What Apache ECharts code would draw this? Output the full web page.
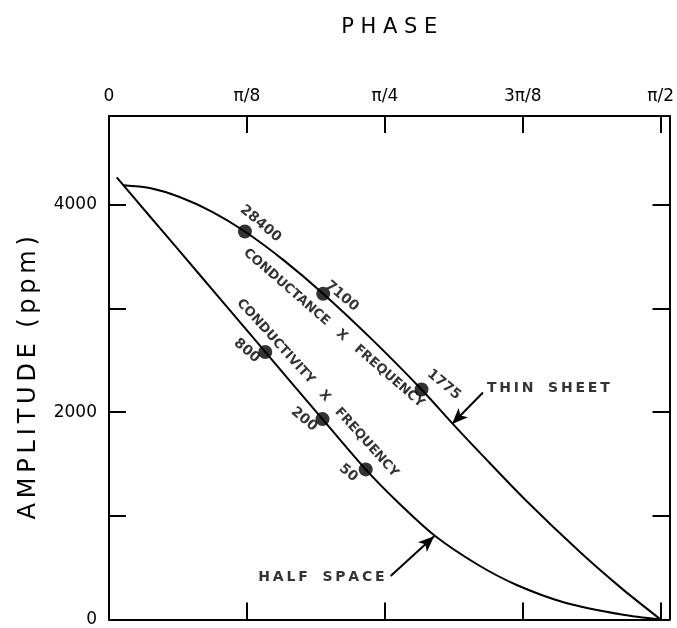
<!DOCTYPE html>
<html>
  <head>
    <meta charset="utf-8" />
    <title>Amplitude vs phase</title>
    <script src="https://cdn.jsdelivr.net/npm/echarts@6/dist/echarts.min.js"></script>
    <style>
      html, body { margin: 0; padding: 0; background: #fff; }
      #chart { width: 677px; height: 628px; }
    </style>
  </head>
  <body>
    <div id="chart"></div>
    <script type="text/javascript">
      // phase in radians, amplitude in ppm
      var thinPhase = [0.040, 0.116, 0.201, 0.294, 0.387, 0.497, 0.610, 0.751, 0.890, 0.977, 1.056, 1.189, 1.342, 1.458, 1.571];
      var thinAmp   = [4190, 4162, 4076, 3933, 3743, 3467, 3143, 2695, 2219, 1895, 1610, 1143, 648, 305, 0];

      var halfPhase = [0.022, 0.116, 0.201, 0.319, 0.445, 0.608, 0.731, 0.822, 0.927, 1.048, 1.161, 1.299, 1.460, 1.571];
      var halfAmp   = [4264, 3890, 3554, 3083, 2581, 1933, 1448, 1133, 810, 533, 333, 162, 48, 0];

      // labelled points
      var thinDotLabels = ['28400', '7100', '1775'];
      var thinDotPhase  = [0.387, 0.610, 0.890];
      var thinDotAmp    = [3743, 3143, 2219];
      var halfDotLabels = ['800', '200', '50'];
      var halfDotPhase  = [0.445, 0.608, 0.731];
      var halfDotAmp    = [2581, 1933, 1448];

      var phaseTicks  = [0, Math.PI / 8, Math.PI / 4, 3 * Math.PI / 8, Math.PI / 2];
      var phaseLabels = ['0', 'π/8', 'π/4', '3π/8', 'π/2'];
      var ampTicks    = [0, 1000, 2000, 3000, 4000];
      var ampLabels   = [0, 2000, 4000];

      // annotation texts and where they sit (data units)
      var noteTexts = ['CONDUCTANCE   X   FREQUENCY', 'CONDUCTIVITY   X   FREQUENCY',
                       'T\u2009H\u2009I\u2009N   S\u2009H\u2009E\u2009E\u2009T',
                       'H\u2009A\u2009L\u2009F   S\u2009P\u2009A\u2009C\u2009E'];
      var notePhase = [0.640, 0.594, 1.251, 0.605];
      var noteAmp   = [2810, 2233, 2229, 410];
      var noteAngle = [-41, -48, 0, 0];

      // arrows: [from, to]
      var arrows = [
        [[1.065, 2190], [0.977, 1886]],
        [[0.802, 419], [0.926, 803]]
      ];

      var font = 'DejaVu Sans';
      var ink = '#000';

      function zip(xs, ys) {
        return xs.map(function (x, i) { return [x, ys[i]]; });
      }
      function spaced(s) {
        return s.split('').join('\u2009');
      }

      var thinOffsets = [[7, -16], [16, -10], [14, -18]];
      var halfOffsets = [[-15, 11], [-14, 12], [-11, 14]];

      function dotData(phase, amp, labels, offsets) {
        return phase.map(function (p, i) {
          return {
            value: [p, amp[i]],
            name: labels[i],
            label: { offset: offsets[i] }
          };
        });
      }

      var axisBase = {
        type: 'value',
        min: 0,
        max: 1.5962,
        axisLine: { show: true, onZero: false, lineStyle: { color: ink, width: 2 } },
        splitLine: { show: false },
        axisTick: {
          show: true, inside: true, length: 17,
          customValues: phaseTicks,
          lineStyle: { color: ink, width: 2 }
        }
      };
      var yBase = {
        type: 'value', min: 0, max: 4857,
        axisLine: { show: true, onZero: false, lineStyle: { color: ink, width: 2 } },
        splitLine: { show: false },
        axisTick: { show: true, inside: true, length: 17, customValues: ampTicks, lineStyle: { color: ink, width: 2 } }
      };
      var dotLabel = {
        show: true, position: 'inside', rotate: -40,
        formatter: '{b}', fontFamily: font, fontSize: 14, fontWeight: 'bold',
        color: ink, textBorderWidth: 0
      };

      var option = {
        animation: false,
        backgroundColor: '#fff',
        grid: { left: 109, right: 3, top: 116, bottom: 2, containLabel: false },
        xAxis: [
          Object.assign({}, axisBase, {
            position: 'top',
            name: 'P H A S E',
            nameLocation: 'middle',
            nameGap: 78,
            nameTextStyle: { fontFamily: font, fontSize: 21, color: ink },
            axisLabel: {
              show: true,
              customValues: phaseTicks,
              margin: 11,
              fontFamily: font, fontSize: 17, color: ink,
              formatter: function (v) {
                for (var i = 0; i < phaseTicks.length; i++) {
                  if (Math.abs(v - phaseTicks[i]) < 1e-6) return phaseLabels[i];
                }
                return '';
              }
            }
          }),
          Object.assign({}, axisBase, {
            position: 'bottom',
            axisLabel: { show: false }
          })
        ],
        yAxis: [
          Object.assign({}, yBase, {
            position: 'left',
            name: spaced('AMPLITUDE') + '  ' + spaced('(ppm)'),
            nameLocation: 'middle',
            nameGap: 68,
            nameTextStyle: { fontFamily: font, fontSize: 24, color: ink, padding: [0, 20, 0, 0] },
            axisLabel: {
              show: true, customValues: ampLabels, margin: 12,
              fontFamily: font, fontSize: 17, color: ink,
              formatter: function (v) { return String(v); }
            }
          }),
          Object.assign({}, yBase, {
            position: 'right',
            axisLabel: { show: false }
          })
        ],
        series: [
          {
            name: 'thin sheet', type: 'line', data: zip(thinPhase, thinAmp),
            smooth: 0.3, symbol: 'none',
            lineStyle: { color: ink, width: 2 },
            markLine: {
              silent: true,
              symbol: ['none', 'arrow'], symbolSize: [10, 16],
              label: { show: false },
              lineStyle: { color: ink, width: 2, type: 'solid' },
              data: arrows.map(function (a) {
                return [{ coord: a[0] }, { coord: a[1] }];
              })
            }
          },
          {
            name: 'half space', type: 'line', data: zip(halfPhase, halfAmp),
            smooth: 0.3, symbol: 'none',
            lineStyle: { color: ink, width: 2 }
          },
          {
            name: 'thin dots', type: 'scatter', symbolSize: 14,
            itemStyle: { color: ink },
            label: dotLabel,
            data: dotData(thinDotPhase, thinDotAmp, thinDotLabels, thinOffsets)
          },
          {
            name: 'half dots', type: 'scatter', symbolSize: 14,
            itemStyle: { color: ink },
            label: dotLabel,
            data: dotData(halfDotPhase, halfDotAmp, halfDotLabels, halfOffsets)
          },
          {
            name: 'notes', type: 'scatter', symbolSize: 0, silent: true,
            itemStyle: { color: ink },
            data: noteTexts.map(function (t, i) {
              return {
                value: [notePhase[i], noteAmp[i]], name: t,
                label: { rotate: noteAngle[i], fontSize: i < 2 ? 13 : 14 }
              };
            }),
            label: {
              show: true, position: 'inside', formatter: '{b}',
              fontFamily: font, fontWeight: 'bold', color: ink, textBorderWidth: 0
            }
          }
        ]
      };

      var chart = echarts.init(document.getElementById('chart'));
      chart.setOption(option);
    </script>
  </body>
</html>
